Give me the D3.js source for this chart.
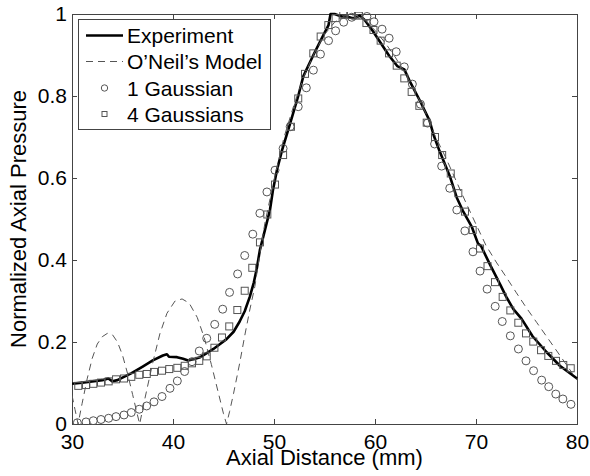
<!DOCTYPE html>
<html>
<head>
<meta charset="utf-8">
<script src="https://cdn.jsdelivr.net/npm/d3@7"></script>
<style>
  html, body { margin: 0; padding: 0; background: #fff; }
  svg { display: block; font-family: "Liberation Sans", Arial, Helvetica, sans-serif; }
</style>
</head>
<body>
<svg id="chart" width="590" height="476"></svg>
<script>
// ---------- data ----------
const xTicks = [30, 40, 50, 60, 70, 80];
const xTickLabels = ["30", "40", "50", "60", "70", "80"];
const yTicks = [0, 0.2, 0.4, 0.6, 0.8, 1];
const yTickLabels = ["0", "0.2", "0.4", "0.6", "0.8", "1"];
const xLabel = "Axial Distance (mm)";
const yLabel = "Normalized Axial Pressure";
const seriesNames = ["Experiment", "O\u2019Neil\u2019s Model", "1 Gaussian", "4 Gaussians"];

// Experiment (solid line)
const expX = [30.0, 31.0, 32.0, 33.0, 33.6, 34.0, 34.5, 35.0, 35.9, 37.0, 38.0, 39.0, 39.4, 39.6, 40.4, 41.0, 41.5, 42.0, 42.7, 43.3,
  44.0, 44.5, 45.3, 46.0, 46.6, 47.1, 47.6, 48.0, 48.3, 48.6, 49.1, 49.6, 49.9, 50.3, 50.8, 51.6, 52.4, 52.9, 53.9, 54.9,
  55.4, 55.6, 56.0, 56.7, 57.2, 57.7, 58.0, 58.5, 59.0, 59.8, 60.6, 61.4, 62.2, 62.9, 63.5, 64.5, 65.4, 65.8, 66.4, 67.4,
  68.1, 68.7, 69.6, 70.2, 70.5, 71.4, 72.4, 73.0, 73.7, 74.5, 75.6, 77.0, 78.3, 80.0];
const expY = [0.098, 0.101, 0.104, 0.107, 0.111, 0.104, 0.107, 0.113, 0.124, 0.140, 0.155, 0.167, 0.170, 0.164, 0.163, 0.159, 0.155, 0.158, 0.163, 0.172,
  0.183, 0.192, 0.207, 0.225, 0.250, 0.275, 0.310, 0.345, 0.380, 0.424, 0.473, 0.522, 0.571, 0.620, 0.668, 0.733, 0.800, 0.848, 0.900, 0.949,
  0.973, 1.000, 1.000, 0.994, 0.994, 0.990, 0.990, 0.996, 0.985, 0.958, 0.928, 0.898, 0.873, 0.865, 0.833, 0.786, 0.740, 0.705, 0.665, 0.605,
  0.552, 0.520, 0.480, 0.440, 0.434, 0.388, 0.340, 0.310, 0.280, 0.257, 0.214, 0.175, 0.142, 0.111];

// O'Neil's model (dashed line)
const oneilX = [30.0, 30.3, 30.6, 31.0, 31.5, 32.0, 32.5, 33.0, 33.5, 34.0, 34.5, 35.0, 35.5, 36.0, 36.4, 36.7, 37.2, 38.0, 38.7, 39.4,
  40.2, 40.9, 41.6, 42.4, 43.1, 43.8, 44.5, 45.0, 45.3, 45.6, 46.0, 46.6, 47.1, 47.6, 48.1, 48.6, 49.1, 50.0, 51.0, 52.0,
  53.0, 54.0, 55.0, 56.0, 57.0, 58.0, 59.0, 60.0, 61.0, 62.0, 63.0, 64.0, 65.0, 66.0, 67.0, 68.0, 69.0, 70.0, 71.0, 72.0,
  73.0, 74.0, 75.0, 76.0, 77.0, 78.0, 79.0, 80.0];
const oneilY = [0.070, 0.035, 0.000, 0.050, 0.110, 0.160, 0.195, 0.213, 0.221, 0.218, 0.200, 0.168, 0.123, 0.072, 0.030, 0.000, 0.060, 0.150, 0.220, 0.270,
  0.300, 0.305, 0.295, 0.260, 0.210, 0.145, 0.075, 0.025, 0.000, 0.030, 0.075, 0.148, 0.215, 0.278, 0.335, 0.415, 0.490, 0.595, 0.700, 0.780,
  0.850, 0.905, 0.950, 0.980, 0.995, 0.998, 0.985, 0.960, 0.930, 0.895, 0.855, 0.810, 0.760, 0.700, 0.650, 0.595, 0.540, 0.487, 0.435, 0.395,
  0.358, 0.320, 0.283, 0.248, 0.213, 0.178, 0.143, 0.107];

// 1 Gaussian (circles)
const g1X = [30.53, 31.39, 32.11, 32.87, 33.63, 34.36, 35.15, 35.87, 36.66, 37.39, 38.12, 38.91, 39.70, 40.43, 41.15, 41.88, 42.60, 43.34, 44.13, 44.92,
  45.60, 46.40, 47.10, 47.90, 48.60, 49.30, 50.10, 50.90, 51.60, 52.40, 53.20, 53.90, 54.60, 55.40, 56.10, 56.90, 57.70, 58.40, 59.20, 59.90,
  60.70, 61.40, 62.10, 62.90, 63.70, 64.50, 65.20, 65.90, 66.60, 67.40, 68.10, 68.90, 69.70, 70.40, 71.10, 71.90, 72.60, 73.40, 74.20, 74.95,
  75.70, 76.50, 77.20, 77.90, 78.60, 79.40];
const g1Y = [0.003, 0.005, 0.008, 0.011, 0.014, 0.018, 0.022, 0.028, 0.036, 0.044, 0.054, 0.067, 0.087, 0.105, 0.128, 0.152, 0.178, 0.209, 0.243, 0.280,
  0.321, 0.366, 0.411, 0.463, 0.514, 0.566, 0.619, 0.672, 0.725, 0.774, 0.820, 0.863, 0.902, 0.935, 0.959, 0.980, 0.992, 0.999, 0.994, 0.981,
  0.963, 0.941, 0.908, 0.871, 0.829, 0.780, 0.734, 0.683, 0.629, 0.575, 0.522, 0.471, 0.420, 0.373, 0.329, 0.287, 0.250, 0.215, 0.183, 0.154,
  0.130, 0.107, 0.091, 0.073, 0.061, 0.048];

// 4 Gaussians (squares)
const g4X = [30.62, 31.39, 32.11, 32.87, 33.63, 34.36, 35.15, 35.87, 36.66, 37.40, 38.12, 38.91, 39.63, 40.43, 41.16, 41.88, 42.60, 43.34, 44.10, 44.85,
  45.57, 46.37, 47.10, 47.85, 48.61, 49.34, 50.10, 50.90, 51.68, 52.40, 53.07, 53.89, 54.62, 55.38, 56.10, 56.86, 57.62, 58.40, 59.15, 59.85,
  60.56, 61.39, 62.15, 62.90, 63.63, 64.39, 65.12, 65.94, 66.65, 67.50, 68.25, 68.91, 69.67, 70.40, 71.14, 71.88, 72.64, 73.40, 74.19, 74.95,
  75.67, 76.44, 77.16, 77.92, 78.64, 79.38];
const g4Y = [0.093, 0.095, 0.098, 0.101, 0.104, 0.109, 0.111, 0.115, 0.120, 0.122, 0.127, 0.130, 0.134, 0.137, 0.142, 0.148, 0.154, 0.165, 0.186, 0.211,
  0.238, 0.278, 0.325, 0.381, 0.443, 0.511, 0.584, 0.656, 0.725, 0.794, 0.854, 0.904, 0.945, 0.973, 0.990, 0.998, 0.998, 0.996, 0.978, 0.961,
  0.935, 0.904, 0.874, 0.843, 0.810, 0.776, 0.735, 0.700, 0.656, 0.611, 0.563, 0.518, 0.473, 0.428, 0.385, 0.346, 0.310, 0.277, 0.247, 0.221,
  0.201, 0.180, 0.166, 0.154, 0.144, 0.136];

// ---------- layout ----------
const mLeft = 72, mRight = 577, mTop = 14, mBottom = 424;
const axisColor = "#444";
const markerColor = "#555";
const fontSize = 21;

const svg = d3.select("#chart");
const x = d3.scaleLinear().domain([30, 80]).range([mLeft, mRight]);
const y = d3.scaleLinear().domain([0, 1]).range([mBottom, mTop]);

const zip = (xs, ys) => xs.map((v, i) => [v, ys[i]]);

// axes with inward ticks
const xAxisB = d3.axisBottom(x).tickValues(xTicks).tickFormat((d, i) => xTickLabels[i])
  .tickSizeInner(-5).tickSizeOuter(0).tickPadding(10);
const xAxisT = d3.axisTop(x).tickValues(xTicks.slice(1, -1)).tickFormat("")
  .tickSizeInner(-5).tickSizeOuter(0);
const yAxisL = d3.axisLeft(y).tickValues(yTicks).tickFormat((d, i) => yTickLabels[i])
  .tickSizeInner(-5).tickSizeOuter(0).tickPadding(5);
const yAxisR = d3.axisRight(y).tickValues(yTicks.slice(1, -1)).tickFormat("")
  .tickSizeInner(-5).tickSizeOuter(0);

function styleAxis(g) {
  g.select(".domain").remove();
  g.selectAll(".tick line").attr("stroke", axisColor).attr("stroke-width", 1);
  g.selectAll(".tick text").attr("fill", "#000").attr("font-size", fontSize)
    .attr("font-family", "\"Liberation Sans\", Arial, sans-serif");
}

svg.append("g").attr("transform", `translate(0,${mBottom})`).call(xAxisB).call(styleAxis);
svg.append("g").attr("transform", `translate(0,${mTop})`).call(xAxisT).call(styleAxis);
svg.append("g").attr("transform", `translate(${mLeft},0)`).call(yAxisL).call(styleAxis);
svg.append("g").attr("transform", `translate(${mRight},0)`).call(yAxisR).call(styleAxis);

// frame
svg.append("rect").attr("x", mLeft + 0.5).attr("y", mTop + 0.5)
  .attr("width", mRight - mLeft).attr("height", mBottom - mTop)
  .attr("fill", "none").attr("stroke", axisColor).attr("stroke-width", 1);

// clip
svg.append("clipPath").attr("id", "clip").append("rect")
  .attr("x", mLeft).attr("y", mTop - 2).attr("width", mRight - mLeft + 1).attr("height", mBottom - mTop + 3);
const plot = svg.append("g").attr("clip-path", "url(#clip)");

const line = d3.line().x(d => x(d[0])).y(d => y(d[1]));

plot.append("path").datum(zip(expX, expY)).attr("d", line)
  .attr("fill", "none").attr("stroke", "#000").attr("stroke-width", 2.6)
  .attr("stroke-linejoin", "round");

plot.append("path").datum(zip(oneilX, oneilY)).attr("d", line)
  .attr("fill", "none").attr("stroke", "#555").attr("stroke-width", 1)
  .attr("stroke-dasharray", "7,5");

plot.selectAll("circle.g1").data(zip(g1X, g1Y)).join("circle")
  .attr("class", "g1")
  .attr("cx", d => x(d[0])).attr("cy", d => y(d[1])).attr("r", 4)
  .attr("fill", "none").attr("stroke", markerColor).attr("stroke-width", 1);

const sq = 7;
plot.selectAll("rect.g4").data(zip(g4X, g4Y)).join("rect")
  .attr("class", "g4")
  .attr("x", d => x(d[0]) - sq / 2).attr("y", d => y(d[1]) - sq / 2)
  .attr("width", sq).attr("height", sq)
  .attr("fill", "none").attr("stroke", markerColor).attr("stroke-width", 1);

// axis labels
svg.append("text").attr("x", (mLeft + mRight) / 2).attr("y", 465)
  .attr("text-anchor", "middle").attr("font-size", 22).attr("fill", "#000")
  .text(xLabel);
svg.append("text").attr("transform", `translate(26,${(mTop + mBottom) / 2}) rotate(-90)`)
  .attr("text-anchor", "middle").attr("font-size", 22).attr("fill", "#000")
  .text(yLabel);

// legend
const lg = svg.append("g");
lg.append("rect").attr("x", 78.5).attr("y", 19.5).attr("width", 192).attr("height", 110)
  .attr("fill", "#fff").attr("stroke", axisColor).attr("stroke-width", 1);
const rowY = [35.5, 61.5, 88, 114];
seriesNames.forEach((name, i) => {
  const cy = rowY[i];
  if (i === 0) {
    lg.append("line").attr("x1", 86).attr("x2", 123).attr("y1", cy).attr("y2", cy)
      .attr("stroke", "#000").attr("stroke-width", 2.6);
  } else if (i === 1) {
    lg.append("line").attr("x1", 86).attr("x2", 123).attr("y1", cy).attr("y2", cy)
      .attr("stroke", "#555").attr("stroke-width", 1).attr("stroke-dasharray", "7,5");
  } else if (i === 2) {
    lg.append("circle").attr("cx", 104.5).attr("cy", cy).attr("r", 3.2)
      .attr("fill", "none").attr("stroke", markerColor);
  } else {
    lg.append("rect").attr("x", 102).attr("y", cy - 2.5).attr("width", 5).attr("height", 5)
      .attr("fill", "none").attr("stroke", markerColor);
  }
  lg.append("text").attr("x", 127).attr("y", cy + 7.5).attr("font-size", fontSize)
    .attr("fill", "#000").text(name);
});
</script>
</body>
</html>
